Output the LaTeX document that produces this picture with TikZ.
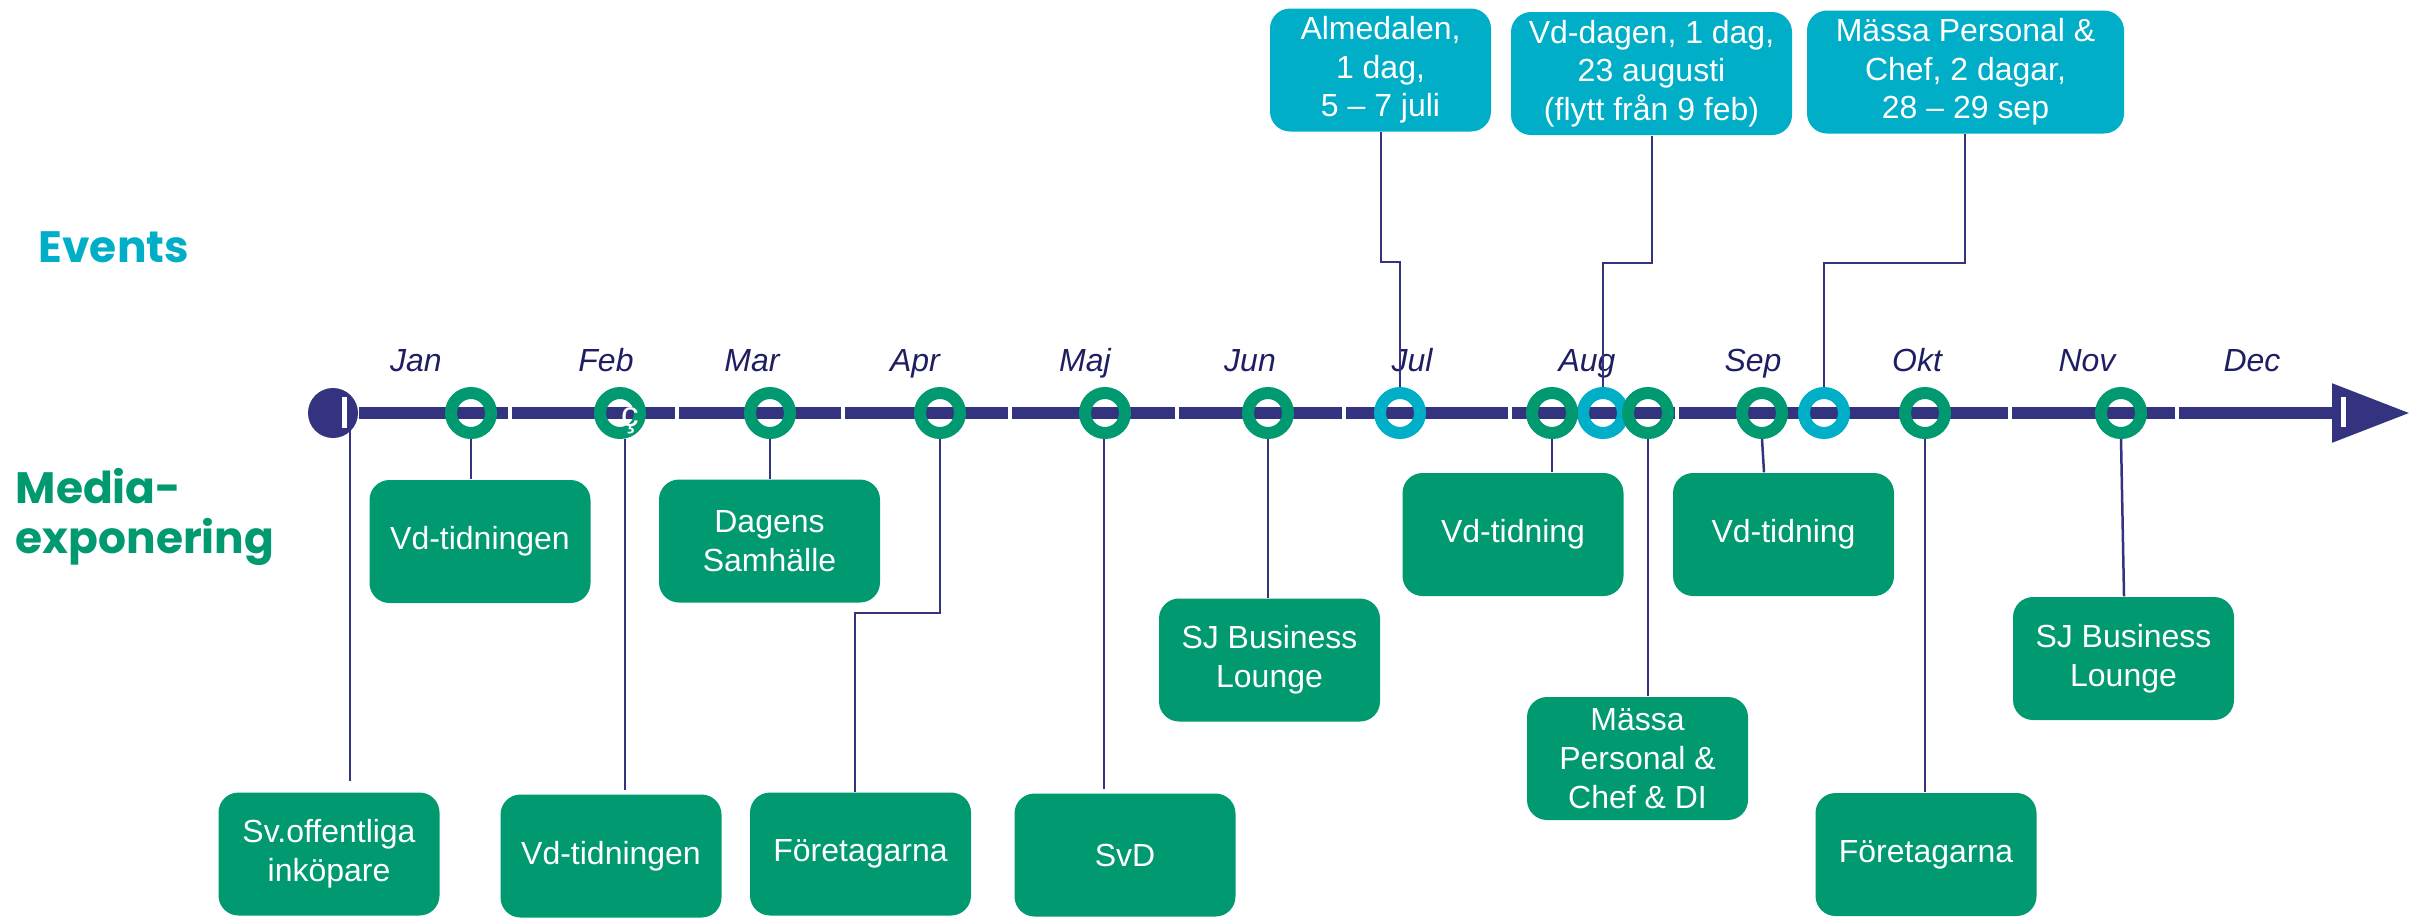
\documentclass[tikz,border=0pt]{standalone}
\usepackage{fontspec}
\setmainfont{Liberation Sans}
\newfontfamily\headfont{Poppins}
\usetikzlibrary{arrows.meta}
\definecolor{navy}{RGB}{51,51,128}
\definecolor{monthnavy}{RGB}{30,30,98}
\definecolor{mgreen}{RGB}{0,153,112}
\definecolor{eteal}{RGB}{0,174,199}

\begin{document}
\begin{tikzpicture}[x=0.1mm,y=-0.1mm,
	box/.style={fill=#1,rounded corners=2mm,minimum width=22.1mm,minimum height=12.3mm,
		inner sep=0pt,align=center,text=white,font=\fontsize{9.1}{11}\selectfont},
	media/.style={box=mgreen},
	event/.style={box=eteal},
	ring/.style={circle,draw=#1,line width=1.2mm,minimum size=4mm,inner sep=0pt},
	month/.style={anchor=base,text=monthnavy,font=\fontsize{9.1}{10.95}\selectfont\itshape},
	link/.style={draw=navy,line width=0.25mm},
	side/.style={anchor=base west,inner sep=0pt,font=\headfont\bfseries\fontsize{12.5}{14}\selectfont}]
	\useasboundingbox (0,0) rectangle (2420,919);

	% side titles
	\node[side,text=eteal] (events) at (38,262) {Events};
	\node[side,text=mgreen] (media1) at (15,503) {Media-};
	\node[side,text=mgreen] (media2) at (15,553) {exponering};

	% months
	\foreach \m/\x in {Jan/416,Feb/606,Mar/752,Apr/915,Maj/1085,Jun/1250,Jul/1412,Aug/1587,Sep/1753,Okt/1917,Nov/2087,Dec/2252}
		\node[month] (m\m) at (\x,371) {\m};

	% time line
	\node[circle,fill=navy,minimum size=5mm,inner sep=0pt] (start) at (333,413) {};
	\coordinate (tip) at (2410,413);
	\draw[navy,line width=1.2mm,-{Triangle[length=7.8mm,width=5.6mm]}] (start) -- (tip);
	\foreach \g in {0,...,10}
		\fill[white] ({508+166.7*\g},406) rectangle ({512+166.7*\g},420);
	\fill[white] (342,397) rectangle (346.5,428);
	\fill[white] (2341,397) rectangle (2345.5,427);

	% rings
	\foreach \n/\x in {1/1400,2/1603,3/1824}
		\node[ring=eteal] (e\n) at (\x,413) {};
	\foreach \n/\x in {1/471,2/620,3/770,4/940,5/1105,6/1268,8/1552,9/1648,10/1762,11/1925,12/2121}
		\node[ring=mgreen] (r\n) at (\x,413) {};
	\node[text=white,inner sep=0pt,font=\fontsize{10}{10}\selectfont] (fmark) at (630,421) {ç};

	% events
	\node[event] (almedalen) at (1380.5,70) {Almedalen,\\1 dag,\\5 – 7 juli};
	\node[event,minimum width=28.1mm] (vddagen) at (1651.5,73.5) {Vd-dagen, 1 dag,\\23 augusti\\(flytt från 9 feb)};
	\node[event,minimum width=31.7mm] (massaev) at (1965.5,72) {Mässa Personal \&\\Chef, 2 dagar,\\28 – 29 sep};

	% media
	\node[media] (sv) at (329,854) {Sv.offentliga\\inköpare};
	\node[media] (vdA) at (480,541.5) {Vd-tidningen};
	\node[media] (vdB) at (611,856) {Vd-tidningen};
	\node[media] (dagens) at (769.5,541) {Dagens\\Samhälle};
	\node[media] (fortA) at (860.5,854) {Företagarna};
	\node[media] (svd) at (1125,855) {SvD};
	\node[media] (sjA) at (1269.5,660) {SJ Business\\Lounge};
	\node[media] (vdtA) at (1513,534.5) {Vd-tidning};
	\node[media] (massa) at (1637.5,758.5) {Mässa\\Personal \&\\Chef \& DI};
	\node[media] (vdtB) at (1783.5,534.5) {Vd-tidning};
	\node[media] (fortB) at (1926,854.5) {Företagarna};
	\node[media] (sjB) at (2123.5,658.5) {SJ Business\\Lounge};

	% links
	\coordinate (svend) at (350,781);
	\draw[link] (svend |- start) -- (svend);
	\draw[link] (r1.south) -- (r1.south |- vdA.north);
	\coordinate (febend) at (625,790);
	\draw[link] (febend |- r2.south) -- (febend);
	\draw[link] (r3.south) -- (r3.south |- dagens.north);
	\coordinate (aprbend) at (855,613);
	\draw[link] (r4.south) |- (aprbend) -- (aprbend |- fortA.north);
	\coordinate (majend) at (1104,789);
	\draw[link] (majend |- r5.south) -- (majend);
	\draw[link] (r6.south) -- (r6.south |- sjA.north);
	\draw[link] (r8.south) -- (r8.south |- vdtA.north);
	\draw[link] (r9.south) -- (r9.south |- massa.north);
	\draw[link] (r10.south) -- ([xshift=0.2mm]r10.south |- vdtB.north);
	\draw[link] (r11.south) -- (r11.south |- fortB.north);
	\draw[link] (r12.south) -- ([xshift=0.3mm]r12.south |- sjB.north);
	\coordinate (e1bend) at (1381,262);
	\draw[link] (e1bend |- almedalen.south) -- (e1bend) -| (e1.north);
	\coordinate (e2bend) at (1652,263);
	\draw[link] (e2bend |- vddagen.south) -- (e2bend) -| (e2.north);
	\coordinate (e3bend) at (1965,263);
	\draw[link] (e3bend |- massaev.south) -- (e3bend) -| (e3.north);
\end{tikzpicture}
\end{document}
